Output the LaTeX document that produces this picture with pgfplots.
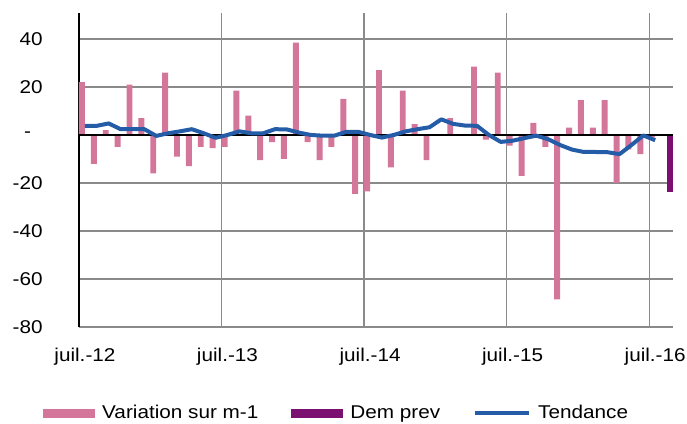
\documentclass[border=0pt]{standalone}
\usepackage{fontspec}
\setmainfont{Liberation Sans}[FakeStretch=1.12]
\usepackage{pgfplots}
\pgfplotsset{compat=1.18}

\definecolor{varpink}{RGB}{212,117,154}
\definecolor{demprev}{RGB}{124,16,112}
\definecolor{trendblue}{RGB}{36,92,168}
\definecolor{gridgray}{RGB}{138,138,138}

\begin{document}
\begin{tikzpicture}
\fontsize{18.5pt}{21pt}\selectfont
\begin{axis}[
    scale only axis,
    width=594pt, height=314pt,
    xmin=-0.5, xmax=49.5,
    ymin=-80, ymax=50.8,
    separate axis lines,
    axis x line=bottom, axis y line=left,
    x axis line style={draw=gridgray, line width=1.3pt, -},
    y axis line style={draw=black, line width=2pt, -},
    major tick length=0pt,
    ytick={-80,-60,-40,-20,0,20,40},
    yticklabels={-80,-60,-40,-20,{-\hphantom{0}},20,40},
    yticklabel style={xshift=-30pt, font=\fontsize{18.5pt}{21pt}\selectfont},
    xtick={0,12,24,36,48},
    xticklabels={juil.-12,juil.-13,juil.-14,juil.-15,juil.-16},
    xticklabel style={yshift=-15pt, font=\fontsize{18.5pt}{21pt}\selectfont},
    extra x ticks={11.5,23.5,35.5,47.5},
    extra x tick labels={},
    extra x tick style={xmajorgrids=true},
    ymajorgrids=true, xmajorgrids=false,
    grid style={draw=gridgray, line width=1.3pt},
    clip=false,
    legend columns=3,
    legend style={at={(axis description cs:-0.0606,-0.274)}, anchor=west,
        draw=none, fill=none, inner sep=0pt,
        font=\fontsize{18.5pt}{21pt}\selectfont,
        nodes={inner sep=0pt},
        /tikz/every odd column/.append style={column sep=7pt},
        /tikz/every even column/.append style={column sep=33pt}},
]
% Variation sur m-1 (left half of each month)
\addplot[ybar, bar width=0.5, bar shift=-0.25, fill=varpink, draw=none,
    legend image code/.code={\fill[varpink] (0pt,-4.5pt) rectangle (52pt,4.5pt);}]
coordinates {
(0,22) (1,-12) (2,2) (3,-5) (4,21) (5,7) (6,-16) (7,26) (8,-9) (9,-13)
(10,-5) (11,-5.5) (12,-5) (13,18.5) (14,8) (15,-10.5) (16,-3) (17,-10) (18,38.5) (19,-3)
(20,-10.5) (21,-5) (22,15) (23,-24.5) (24,-23.5) (25,27) (26,-13.5) (27,18.5) (28,4.5) (29,-10.5)
(30,0) (31,7) (32,0) (33,28.5) (34,-2) (35,26) (36,-4.5) (37,-17) (38,5) (39,-5)
(40,-68.5) (41,3) (42,14.5) (43,3) (44,14.5) (45,-20) (46,-6) (47,-8) (48,-1)
};
\addlegendentry{Variation sur m-1}
% Dem prev
\addplot[ybar, bar width=0.5, bar shift=0.25, fill=demprev, draw=none,
    legend image code/.code={\fill[demprev] (0pt,-4.5pt) rectangle (52pt,4.5pt);}]
coordinates {(49,-23.6)};
\addlegendentry{Dem prev}
% zero line
\draw[black, line width=2pt] (axis cs:-0.5,0) -- (axis cs:49.5,0);
% Tendance
\addplot[trendblue, line width=4pt, line join=round, mark=none,
    legend image code/.code={\draw[trendblue, line width=4pt] (0pt,0pt) -- (54pt,0pt);}]
coordinates {
(0,3.8) (1,3.8) (2,4.8) (3,2.4) (4,2.4) (5,2.4) (6,-0.4) (7,0.7) (8,1.5) (9,2.4)
(10,0.7) (11,-1.2) (12,0) (13,1.5) (14,0.7) (15,0.7) (16,2.4) (17,2.3) (18,1) (19,0)
(20,-0.3) (21,-0.3) (22,1.3) (23,1.3) (24,0) (25,-1.1) (26,0) (27,1.5) (28,2.4) (29,3.2)
(30,6.5) (31,4.6) (32,3.9) (33,3.8) (34,0) (35,-2.9) (36,-2.4) (37,-1.3) (38,-0.3) (39,-1.8)
(40,-4.2) (41,-6.1) (42,-7.1) (43,-7.1) (44,-7.2) (45,-8) (46,-4.2) (47,-0.2) (48,-2.2)
};
\addlegendentry{Tendance}
\end{axis}
% cut-off subtitle at the very top
\node[anchor=base, inner sep=0pt] at (-66pt,330.5pt) {(};
\node[anchor=base, inner sep=0pt] at (51pt,330.5pt) {)};
\node[anchor=base, inner sep=0pt] at (171pt,330.5pt) {)};
\pgfresetboundingbox
\useasboundingbox (-79pt,-96pt) rectangle (608pt,327pt);
\end{tikzpicture}
\end{document}
